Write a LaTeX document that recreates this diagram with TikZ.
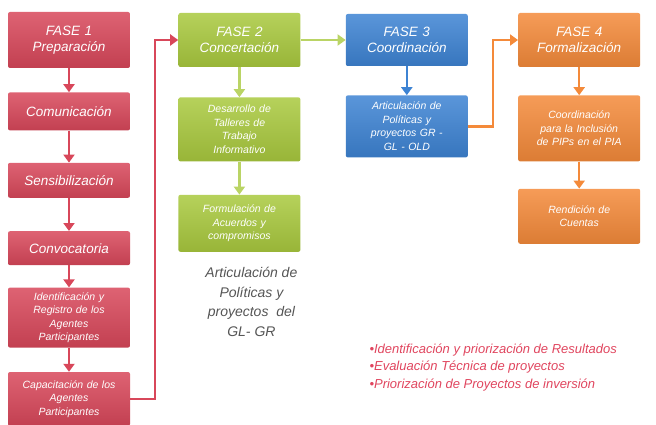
\documentclass[tikz,border=0pt]{standalone}
\usepackage{fontspec}
\setmainfont{Liberation Sans}
\usepackage{xcolor}
\usetikzlibrary{positioning, arrows.meta}

\definecolor{faseRed}{HTML}{D8475A}
\definecolor{faseGreen}{HTML}{A9C93E}
\definecolor{faseBlue}{HTML}{3D83D3}
\definecolor{faseOrange}{HTML}{F48A3A}
\definecolor{noteGray}{HTML}{555555}
\definecolor{noteRed}{HTML}{E0455E}

\begin{document}
\begin{tikzpicture}[
    x=1pt, y=-1pt,
    node distance=24pt and 48pt,
    stagebox/.style={
        rectangle,
        rounded corners=2pt,
        draw=none,
        align=center,
        text=white,
        text width=116pt,
        minimum width=122pt,
        inner sep=3pt,
        font=\itshape\fontsize{13.5}{16}\selectfont
    },
    smallbox/.style={stagebox, font=\itshape\fontsize{10.5}{13.5}\selectfont},
    redbox/.style={top color=faseRed!85!white, bottom color=faseRed!90!black},
    greenbox/.style={top color=faseGreen!85!white, bottom color=faseGreen!90!black},
    bluebox/.style={top color=faseBlue!85!white, bottom color=faseBlue!90!black},
    orangebox/.style={top color=faseOrange!85!white, bottom color=faseOrange!90!black},
    stagearrow/.style={-{Triangle[length=8pt, width=11pt]}, line width=2.4pt}
]
\useasboundingbox (0,0) rectangle (656,425);

% FASE 1
\node[stagebox, redbox, minimum height=56pt] (fase1) at (69,40) {FASE 1\\Preparación};
\node[stagebox, redbox, minimum height=38pt, below=24pt of fase1] (comunic) {Comunicación};
\node[stagebox, redbox, minimum height=35pt, below=32pt of comunic] (sensib) {Sensibilización};
\node[stagebox, redbox, minimum height=34pt, below=33pt of sensib] (convoc) {Convocatoria};
\node[smallbox, redbox, minimum height=60pt, below=22pt of convoc] (ident) {Identificación y\\Registro de los\\Agentes\\Participantes};
\node[smallbox, redbox, minimum height=54pt, below=24pt of ident] (capac) {Capacitación de los\\Agentes\\Participantes};

% FASE 2
\node[stagebox, greenbox, minimum height=54pt, right=48pt of fase1] (fase2) {FASE 2\\Concertación};
\node[smallbox, greenbox, minimum height=64pt, below=30pt of fase2] (talleres) {Desarrollo de\\Talleres de\\Trabajo\\Informativo};
\node[smallbox, greenbox, minimum height=57pt, below=33pt of talleres] (acuerdos) {Formulación de\\Acuerdos y\\compromisos};
\node[align=center, text=noteGray, font=\itshape\fontsize{14}{19.5}\selectfont,
      below=12pt of acuerdos, xshift=12pt] (nota2) {Articulación de\\Políticas y\\proyectos~~del\\GL- GR};

% FASE 3
\node[stagebox, bluebox, minimum height=52pt, right=45pt of fase2] (fase3) {FASE 3\\Coordinación};
\node[smallbox, bluebox, minimum height=62pt, below=29pt of fase3] (articul) {Articulación de\\Políticas y\\proyectos GR -\\GL - OLD};

% FASE 4
\node[stagebox, orangebox, minimum height=54pt, right=50pt of fase3] (fase4) {FASE 4\\Formalización};
\node[smallbox, orangebox, minimum height=66pt, below=28pt of fase4] (inclusion) {Coordinación\\para la Inclusión\\de PIPs en el PIA};
\node[smallbox, orangebox, minimum height=55pt, below=27pt of inclusion] (rendicion) {Rendición de\\Cuentas};

\node[anchor=north west, align=left, text=noteRed, font=\itshape\fontsize{13}{17.5}\selectfont]
      (nota4) at (366,340) {•Identificación y priorización de Resultados\\•Evaluación Técnica de proyectos\\•Priorización de Proyectos de inversión};

% connectors
\foreach \a/\b in {fase1/comunic, comunic/sensib, sensib/convoc, convoc/ident, ident/capac}
    \draw[stagearrow, draw=faseRed] (\a) -- (\b);
\draw[stagearrow, draw=faseRed] (capac.east) -- ++(25pt,0) |- (fase2.west);

\draw[stagearrow, draw=faseGreen!80!white] (fase2) -- (talleres);
\draw[stagearrow, draw=faseGreen!80!white] (talleres) -- (acuerdos);
\draw[stagearrow, draw=faseGreen!80!white] (fase2) -- (fase3);

\draw[stagearrow, draw=faseBlue] (fase3) -- (articul);
\draw[stagearrow, draw=faseOrange] (articul.east) -- ++(25pt,0) |- (fase4.west);

\draw[stagearrow, draw=faseOrange] (fase4) -- (inclusion);
\draw[stagearrow, draw=faseOrange] (inclusion) -- (rendicion);

\end{tikzpicture}
\end{document}
